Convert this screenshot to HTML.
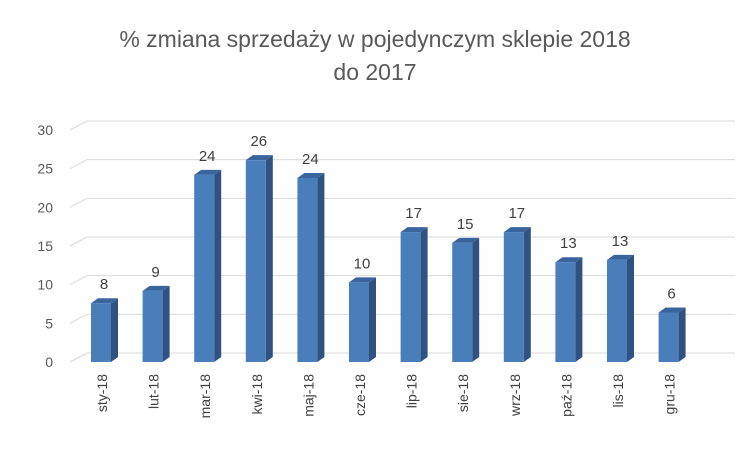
<!DOCTYPE html>
<html><head><meta charset="utf-8"><style>
body{margin:0;background:#fff}
svg{display:block;font-family:"Liberation Sans",sans-serif}
</style></head><body>
<svg id="c" width="750" height="450" viewBox="0 0 750 450">
<text x="375" y="47" text-anchor="middle" font-size="23" fill="#595959">% zmiana sprzedaży w pojedynczym sklepie 2018</text>
<text x="375" y="80" text-anchor="middle" font-size="23" fill="#595959">do 2017</text>
<g id="grid"></g><g id="bars"></g><g id="labels"></g>
</svg>
<script>
const categories=["sty-18","lut-18","mar-18","kwi-18","maj-18","cze-18","lip-18","sie-18","wrz-18","paź-18","lis-18","gru-18"];
const values=[7.6,9.2,24.2,26.1,23.8,10.3,16.8,15.4,16.8,12.9,13.2,6.4];
const valueLabels=["8","9","24","26","24","10","17","15","17","13","13","6"];
const yTicks=[0,5,10,15,20,25,30];
const NS="http://www.w3.org/2000/svg";
const svg=document.getElementById('c');
const y0=362,yScale=232/30;
function yPos(v){return y0-v*yScale;}
function xPos(i){return 101+i*51.6;}
const dx=17,dy=9;
function mk(tag,attrs,parent){const e=document.createElementNS(NS,tag);for(const k in attrs)e.setAttribute(k,attrs[k]);parent.appendChild(e);return e;}
const grid=document.getElementById('grid');
yTicks.forEach(t=>{
  const y=yPos(t);
  const l=mk('line',{x1:70+dx,y1:y-dy,x2:735,y2:y-dy,stroke:'#d9d9d9','stroke-width':1},grid);
  
  
  const d=mk('line',{x1:70,y1:y,x2:70+dx,y2:y-dy,stroke:'#d9d9d9','stroke-width':1},grid);
  
  
  const tx=mk('text',{x:53,y:y+5,'text-anchor':'end','font-size':14,fill:'#595959'},grid);
  tx.textContent=t;
  
  
});
const bars=document.getElementById('bars');
const bw=20,ox=7,oy=5;
values.forEach((v,i)=>{
  const x=xPos(i)-bw/2,yt=yPos(v);
  const g=mk('g',{},bars);
  
  
  mk('polygon',{points:`${x+bw},${yt} ${x+bw+ox},${yt-oy} ${x+bw+ox},${y0-oy} ${x+bw},${y0}`,fill:'#2f5282'},g);
  mk('polygon',{points:`${x},${yt} ${x+ox},${yt-oy} ${x+bw+ox},${yt-oy} ${x+bw},${yt}`,fill:'#3a649e'},g);
  mk('rect',{x:x,y:yt,width:bw,height:y0-yt,fill:'#4a7ebb'},g);
  const lb=mk('text',{x:xPos(i)+3,y:yt-14,'text-anchor':'middle','font-size':15,fill:'#404040'},bars);
  lb.textContent=valueLabels[i];
  
  
  const cl=mk('text',{transform:`translate(${xPos(i)+6},374) rotate(-90)`,'text-anchor':'end','font-size':14,fill:'#404040'},bars);
  cl.textContent=categories[i];
  
  
});
</script>
</body></html>
